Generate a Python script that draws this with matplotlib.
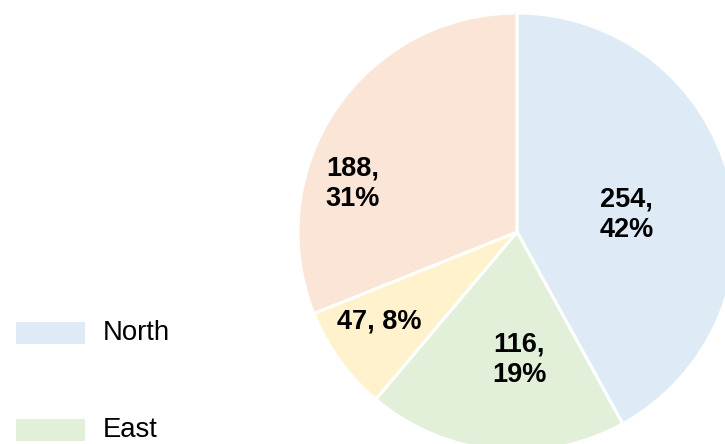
import matplotlib
matplotlib.use("Agg")
import matplotlib.pyplot as plt
from matplotlib.patches import Rectangle

categories = ["North", "East", "South", "West"]
values = [254, 116, 47, 188]
colors = ["#DEEBF7", "#E2F0D9", "#FFF2CC", "#FBE5D6"]

# label positions (in units of pie radius) and line breaks
label_pos = [(0.50, 0.08), (0.01, -0.585), (-0.63, -0.41), (-0.75, 0.22)]
label_multiline = [True, True, False, True]

W, H = 725, 444
cx, cy, R = 517, 232, 219

plt.rcParams['font.family'] = ['Liberation Sans', 'DejaVu Sans']
fig = plt.figure(figsize=(W / 100, H / 100), dpi=100)
ax = fig.add_axes([0, 0, 1, 1])
ax.axis('off')

ax.pie(values, colors=colors, startangle=90, counterclock=False, radius=1,
       wedgeprops=dict(edgecolor='white', linewidth=2.2))
ax.set_aspect('equal')
ax.set_xlim(-cx / R, (W - cx) / R)
ax.set_ylim(-(H - cy) / R, cy / R)

total = sum(values)
for v, (px, py), ml in zip(values, label_pos, label_multiline):
    pct = round(100 * v / total)
    sep = ",\n" if ml else ", "
    ax.text(px, py, f"{v}{sep}{pct}%", ha='center', va='center',
            fontsize=19.5, fontweight='bold', color='black', linespacing=1.22)

# legend (manual, large spacing)
for i, (lab, col) in enumerate(zip(categories, colors)):
    y_top = 321.7 + 97.7 * i
    fig.patches.append(Rectangle((16 / W, 1 - (y_top + 22) / H), 69 / W, 22 / H,
                                 transform=fig.transFigure, facecolor=col,
                                 edgecolor='none'))
    fig.text(103 / W, 1 - (y_top + 11) / H, lab, ha='left', va='center',
             fontsize=19.8, color='black')

fig.savefig("out.png", dpi=100)
